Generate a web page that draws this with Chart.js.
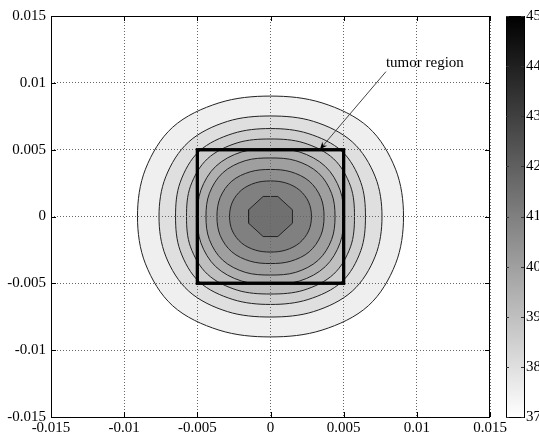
<!DOCTYPE html>
<html>
<head>
<meta charset="utf-8">
<script src="https://cdn.jsdelivr.net/npm/chart.js@4.4.0/dist/chart.umd.min.js"></script>
<style>
  html, body { margin: 0; padding: 0; background: #fff; }
  #wrap { width: 539px; height: 437px; position: relative; }
</style>
</head>
<body>
<div id="wrap"><canvas id="plot"></canvas></div>
<script>
'use strict';

// ── Data ───────────────────────────────────────────────────────────────────
// contour levels (deg C), outermost ring first; the last one is the centre octagon
const LEVELS = [37.5, 38, 38.5, 39, 39.5, 40, 40.5, 41, 41.5];

// radius (m) of the 8 smooth rings, outermost first, at 0, 22.5, 45, 67.5, 90 deg
const R_000 = [0.00909, 0.00762, 0.00649, 0.00574, 0.00499, 0.00441, 0.00366, 0.00280];
const R_225 = [0.00925, 0.00775, 0.00668, 0.00592, 0.00515, 0.00452, 0.00372, 0.00282];
const R_450 = [0.00945, 0.00790, 0.00690, 0.00610, 0.00530, 0.00462, 0.00374, 0.00280];
const R_675 = [0.00920, 0.00770, 0.00672, 0.00596, 0.00522, 0.00452, 0.00362, 0.00272];
const R_900 = [0.00901, 0.00752, 0.00658, 0.00580, 0.00505, 0.00438, 0.00352, 0.00266];

// centre octagon (41.5 level)
const OCT_X = [0.0015, 0.0005, -0.0005, -0.0015, -0.0015, -0.0005, 0.0005, 0.0015, 0.0015];
const OCT_Y = [0.0005, 0.0015, 0.0015, 0.0005, -0.0005, -0.0015, -0.0015, -0.0005, 0.0005];

// tumor box
const RECT_X = [-0.005, 0.005, 0.005, -0.005, -0.005];
const RECT_Y = [-0.005, -0.005, 0.005, 0.005, -0.005];

// axes
const AX_MIN = -0.015, AX_MAX = 0.015, AX_STEP = 0.005;
const CB_MIN = 37, CB_MAX = 45;

// annotation
const NOTE_TEXT = 'tumor region';
const NOTE_X = 0.00789, NOTE_Y = 0.01122;
const ARROW_X = [0.00789, 0.00338];
const ARROW_Y = [0.01084, 0.00503];

// ── Helpers ────────────────────────────────────────────────────────────────
const RADII = [R_000, R_225, R_450, R_675, R_900];

// MATLAB gray colormap, 37 = white ... 45 = black
function grayFor(level) {
  const g = Math.round(255 * (CB_MAX - level) / (CB_MAX - CB_MIN));
  return `rgb(${g},${g},${g})`;
}

function ringPoints(i) {
  const pts = [];
  for (let k = 0; k < 16; k++) {
    const q = k <= 4 ? k : k <= 8 ? 8 - k : k <= 12 ? k - 8 : 16 - k;
    const r = RADII[q][i];
    const a = k * 22.5 * Math.PI / 180;
    pts.push({ x: r * Math.cos(a), y: r * Math.sin(a) });
  }
  // wrap past the start so the spline closes smoothly; the two
  // overhanging end pieces are filled but not stroked (see segment below)
  return [pts[15], ...pts, pts[0], pts[1]];
}

const zip = (xs, ys) => xs.map((x, i) => ({ x, y: ys[i] }));

// ── Datasets (first one is drawn on top) ───────────────────────────────────
const datasets = [];

datasets.push({
  label: 'tumor',
  data: zip(RECT_X, RECT_Y),
  borderColor: '#000',
  borderWidth: 3,
  borderJoinStyle: 'miter',
  borderCapStyle: 'square',
  tension: 0,
  fill: false,
});

datasets.push({
  label: String(LEVELS[8]),
  data: zip(OCT_X, OCT_Y),
  borderColor: '#222',
  borderWidth: 1,
  backgroundColor: grayFor(LEVELS[8]),
  tension: 0,
  fill: 'shape',
});

for (let i = R_000.length - 1; i >= 0; i--) {
  const pts = ringPoints(i);
  const last = pts.length - 1;
  datasets.push({
    label: String(LEVELS[i]),
    data: pts,
    borderColor: '#222',
    borderWidth: 1,
    backgroundColor: grayFor(LEVELS[i]),
    tension: 0.34,
    fill: 'shape',
    segment: {
      borderColor: c => (c.p0DataIndex === 0 || c.p1DataIndex === last) ? 'rgba(0,0,0,0)' : undefined,
    },
  });
}

// ── Frame, inward ticks, colorbar and annotation ───────────────────────────
const matlabFrame = {
  id: 'matlabFrame',
  afterDraw(chart) {
    const { ctx, chartArea: a, scales } = chart;
    const xs = scales.x, ys = scales.y, cb = scales.cb;
    ctx.save();

    // tumor box again, above the dotted grid
    chart.getDatasetMeta(0).controller.draw();

    // annotation
    const x0 = xs.getPixelForValue(ARROW_X[0]), y0 = ys.getPixelForValue(ARROW_Y[0]);
    const x1 = xs.getPixelForValue(ARROW_X[1]), y1 = ys.getPixelForValue(ARROW_Y[1]);
    ctx.strokeStyle = '#444';
    ctx.lineWidth = 1;
    ctx.beginPath();
    ctx.moveTo(x0, y0);
    ctx.lineTo(x1, y1);
    ctx.stroke();
    const ang = Math.atan2(y1 - y0, x1 - x0);
    ctx.fillStyle = '#000';
    ctx.beginPath();
    ctx.moveTo(x1, y1);
    ctx.lineTo(x1 - 8 * Math.cos(ang - 0.4), y1 - 8 * Math.sin(ang - 0.4));
    ctx.lineTo(x1 - 5 * Math.cos(ang), y1 - 5 * Math.sin(ang));
    ctx.lineTo(x1 - 8 * Math.cos(ang + 0.4), y1 - 8 * Math.sin(ang + 0.4));
    ctx.closePath();
    ctx.fill();
    ctx.font = "15px 'Liberation Serif', serif";
    ctx.textAlign = 'left';
    ctx.textBaseline = 'alphabetic';
    ctx.fillText(NOTE_TEXT, xs.getPixelForValue(NOTE_X), ys.getPixelForValue(NOTE_Y));

    // axes box
    ctx.strokeStyle = '#000';
    ctx.lineWidth = 1;
    ctx.strokeRect(a.left + 0.5, a.top + 0.5, a.right - a.left - 1, a.bottom - a.top);

    // inward ticks
    ctx.beginPath();
    for (const t of xs.ticks) {
      const p = Math.round(xs.getPixelForValue(t.value)) + 0.5;
      ctx.moveTo(p, a.bottom); ctx.lineTo(p, a.bottom - 5);
      ctx.moveTo(p, a.top);    ctx.lineTo(p, a.top + 5);
    }
    for (const t of ys.ticks) {
      const p = Math.round(ys.getPixelForValue(t.value)) + 0.5;
      ctx.moveTo(a.left, p);  ctx.lineTo(a.left + 5, p);
      ctx.moveTo(a.right, p); ctx.lineTo(a.right - 5, p);
    }
    ctx.stroke();

    // colorbar
    const cl = a.right + 16, cr = a.right + 34;
    const ct = cb.getPixelForValue(CB_MAX), cbot = cb.getPixelForValue(CB_MIN);
    const grad = ctx.createLinearGradient(0, ct, 0, cbot);
    grad.addColorStop(0, grayFor(CB_MAX));
    grad.addColorStop(1, grayFor(CB_MIN));
    ctx.fillStyle = grad;
    ctx.fillRect(cl, ct, cr - cl, cbot - ct);
    ctx.strokeRect(cl + 0.5, ct + 0.5, cr - cl, cbot - ct);
    ctx.beginPath();
    for (const t of cb.ticks) {
      const p = Math.round(cb.getPixelForValue(t.value)) + 0.5;
      ctx.moveTo(cl, p); ctx.lineTo(cl + 3, p);
      ctx.moveTo(cr, p); ctx.lineTo(cr - 3, p);
    }
    ctx.strokeStyle = '#333';
    ctx.stroke();

    ctx.restore();
  },
};

// ── Chart ──────────────────────────────────────────────────────────────────
Chart.defaults.font.family = "'Liberation Serif', 'Times New Roman', serif";
Chart.defaults.font.size = 15;
Chart.defaults.color = '#000';

const fmt = v => String(Math.round(v * 1000) / 1000);

const gridStyle = { color: '#666', lineWidth: 1, z: 1, drawTicks: false };

new Chart(document.getElementById('plot').getContext('2d'), {
  type: 'line',
  data: { datasets },
  plugins: [matlabFrame],
  options: {
    responsive: true,
    maintainAspectRatio: false,
    animation: false,
    events: [],
    layout: { padding: { top: 16, left: 0, right: 0, bottom: 0 } },
    elements: { point: { radius: 0 } },
    plugins: { legend: { display: false }, tooltip: { enabled: false } },
    scales: {
      x: {
        type: 'linear',
        min: AX_MIN, max: AX_MAX,
        ticks: { stepSize: AX_STEP, padding: 2, maxRotation: 0, autoSkip: false, callback: fmt },
        grid: gridStyle,
        border: { display: false, dash: [1, 2] },
        afterFit: s => { s.height = 20; s.paddingLeft = 0; s.paddingRight = 0; },
      },
      y: {
        type: 'linear',
        min: AX_MIN, max: AX_MAX,
        ticks: { stepSize: AX_STEP, padding: 5, autoSkip: false, callback: fmt },
        grid: gridStyle,
        border: { display: false, dash: [1, 2] },
        afterFit: s => { s.width = 51; s.paddingTop = 0; s.paddingBottom = 0; },
      },
      cb: {
        type: 'linear',
        position: 'right',
        min: CB_MIN, max: CB_MAX,
        ticks: { stepSize: 1, padding: 36, autoSkip: false },
        grid: { display: false, drawTicks: false },
        border: { display: false },
        afterFit: s => { s.width = 49; s.paddingTop = 0; s.paddingBottom = 0; },
      },
    },
  },
});
</script>
</body>
</html>
